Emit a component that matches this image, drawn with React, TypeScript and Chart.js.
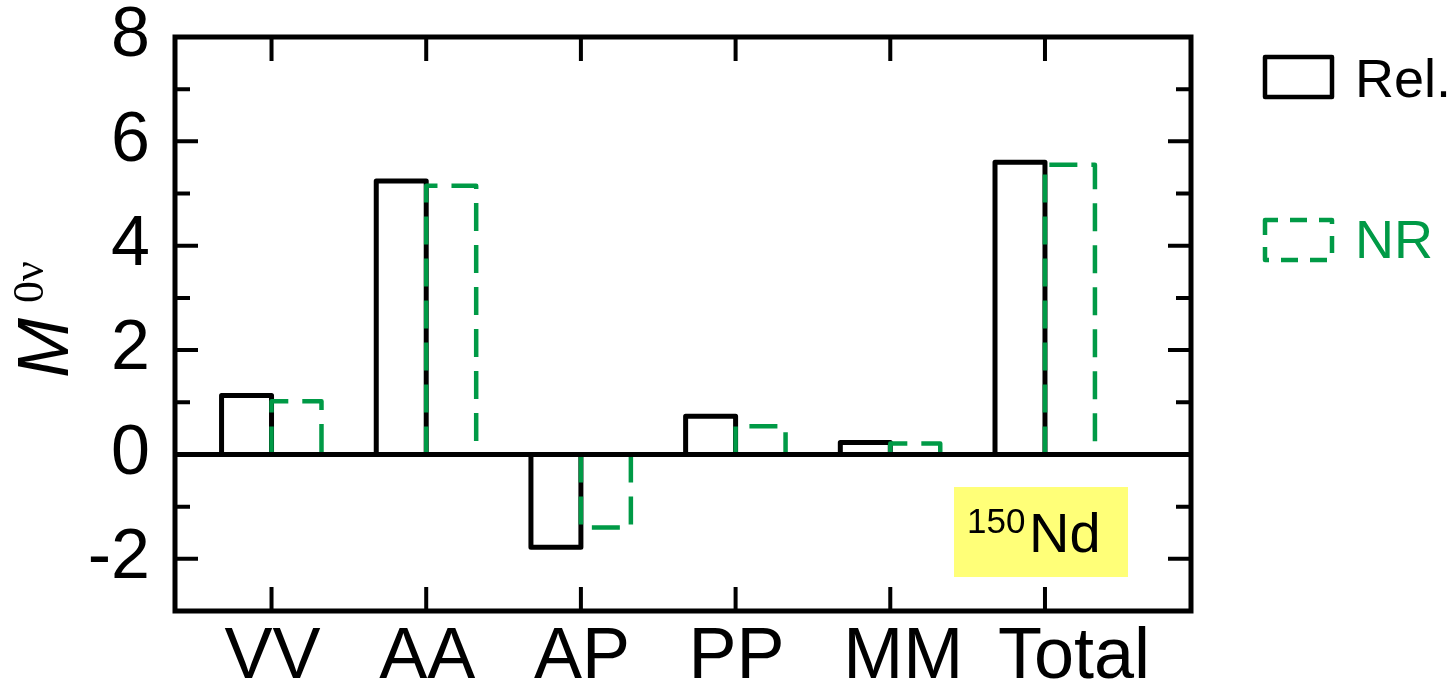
import { useEffect, useRef } from 'react';
import { Chart, registerables } from 'chart.js';

Chart.register(...registerables);

// Channel contributions to the 0νββ nuclear matrix element of 150Nd
const categories = ['VV', 'AA', 'AP', 'PP', 'MM', 'Total'];
const relValues = [1.13, 5.24, -1.78, 0.73, 0.23, 5.6];
const nrValues = [1.02, 5.15, -1.4, 0.54, 0.21, 5.55];
const seriesLabels = ['Rel.', 'NR'];
const yMajorTicks = [-2, 0, 2, 4, 6, 8];
const yMinorTicks = [-1, 1, 3, 5, 7];
const nucleusMass = '150';
const nucleusSymbol = 'Nd';

const SANS = '"Liberation Sans", Arial, sans-serif';
const SERIF = '"Liberation Serif", "Times New Roman", serif';
const GREEN = '#009a46';

type OutlineStyle = { color: string; width: number; dash: number[] };
const outlineStyles: OutlineStyle[] = [
  { color: '#000000', width: 5, dash: [] },
  { color: GREEN, width: 4.5, dash: [28, 14] },
];

// Open bars: stroke the three non-base sides of each bar element
const barOutlines = {
  id: 'barOutlines',
  afterDatasetsDraw(chart: any) {
    const ctx = chart.ctx as CanvasRenderingContext2D;
    chart.data.datasets.forEach((_: any, di: number) => {
      const meta = chart.getDatasetMeta(di);
      const st = outlineStyles[di];
      ctx.save();
      ctx.strokeStyle = st.color;
      ctx.lineWidth = st.width;
      ctx.setLineDash(st.dash);
      ctx.lineJoin = 'round';
      ctx.lineCap = 'butt';
      meta.data.forEach((bar: any) => {
        const { x, y, base, width } = bar.getProps(['x', 'y', 'base', 'width'], true);
        const l = x - width / 2;
        const r = x + width / 2;
        ctx.beginPath();
        ctx.moveTo(l, base);
        ctx.lineTo(l, y);
        ctx.lineTo(r, y);
        ctx.lineTo(r, base);
        ctx.stroke();
      });
      ctx.restore();
    });
  },
};

// Boxed frame with inward ticks, zero line, axis title, legend and nucleus tag
const frameAndDecor = {
  id: 'frameAndDecor',
  afterDraw(chart: any) {
    const ctx = chart.ctx as CanvasRenderingContext2D;
    const { left, right, top, bottom } = chart.chartArea;
    const xs = chart.scales.x;
    const ys = chart.scales.y;
    ctx.save();
    ctx.strokeStyle = '#000';
    ctx.lineCap = 'butt';
    ctx.setLineDash([]);

    // zero line
    ctx.lineWidth = 5;
    const y0 = ys.getPixelForValue(0);
    ctx.beginPath();
    ctx.moveTo(left, y0);
    ctx.lineTo(right, y0);
    ctx.stroke();

    // frame
    ctx.beginPath();
    ctx.rect(left, top, right - left, bottom - top);
    ctx.stroke();

    // y ticks on both sides
    ctx.lineWidth = 4;
    const yTick = (v: number, len: number) => {
      const py = ys.getPixelForValue(v);
      ctx.beginPath();
      ctx.moveTo(left, py);
      ctx.lineTo(left + len, py);
      ctx.moveTo(right, py);
      ctx.lineTo(right - len, py);
      ctx.stroke();
    };
    yMajorTicks.forEach((v) => yTick(v, 23));
    yMinorTicks.forEach((v) => yTick(v, 15));

    // x ticks top and bottom
    categories.forEach((_, i) => {
      const px = xs.getPixelForValue(i);
      ctx.beginPath();
      ctx.moveTo(px, top);
      ctx.lineTo(px, top + 24);
      ctx.moveTo(px, bottom);
      ctx.lineTo(px, bottom - 24);
      ctx.stroke();
    });

    // y axis title: M^{0ν}
    ctx.save();
    ctx.translate(68, (top + bottom) / 2 + 54);
    ctx.rotate(-Math.PI / 2);
    ctx.fillStyle = '#000';
    ctx.textAlign = 'left';
    ctx.textBaseline = 'alphabetic';
    ctx.font = `italic 72px ${SANS}`;
    ctx.fillText('M', 0, 0);
    ctx.font = `44px ${SERIF}`;
    ctx.fillText('0ν', 75, -25);
    ctx.restore();

    // legend
    const lx = right + 74;
    ctx.lineWidth = 4.5;
    ctx.strokeStyle = '#000';
    ctx.lineJoin = 'round';
    ctx.strokeRect(lx, 57, 67, 40);
    ctx.strokeStyle = GREEN;
    ctx.setLineDash([17, 12]);
    ctx.lineDashOffset = 4;
    ctx.strokeRect(lx, 220, 67, 40);
    ctx.setLineDash([]);
    ctx.font = `54px ${SANS}`;
    ctx.textAlign = 'left';
    ctx.textBaseline = 'alphabetic';
    ctx.fillStyle = '#000';
    ctx.fillText(seriesLabels[0], lx + 90, 97);
    ctx.fillStyle = GREEN;
    ctx.fillText(seriesLabels[1], lx + 90, 258);

    // nucleus tag
    const bx = right - 237;
    const by = bottom - 124;
    ctx.fillStyle = '#ffff78';
    ctx.fillRect(bx, by, 174, 90);
    ctx.fillStyle = '#000';
    ctx.font = `35px ${SANS}`;
    ctx.fillText(nucleusMass, bx + 13, by + 46);
    ctx.font = `56px ${SANS}`;
    ctx.fillText(nucleusSymbol, bx + 75, by + 65);

    ctx.restore();
  },
};

export default function App() {
  const canvasRef = useRef<HTMLCanvasElement | null>(null);

  useEffect(() => {
    const canvas = canvasRef.current;
    if (!canvas) return;
    const chart = new Chart(canvas, {
      type: 'bar',
      data: {
        datasets: [
          {
            label: seriesLabels[0],
            data: relValues.map((v, i) => ({ x: i, y: v })),
            backgroundColor: 'rgba(0,0,0,0)',
            borderWidth: 0,
            categoryPercentage: 0.646,
            barPercentage: 1,
          },
          {
            label: seriesLabels[1],
            data: nrValues.map((v, i) => ({ x: i, y: v })),
            backgroundColor: 'rgba(0,0,0,0)',
            borderWidth: 0,
            categoryPercentage: 0.646,
            barPercentage: 1,
          },
        ],
      },
      options: {
        animation: false,
        responsive: false,
        devicePixelRatio: 1,
        layout: { padding: { top: 37, right: 261, left: 0, bottom: 0 } },
        plugins: { legend: { display: false }, tooltip: { enabled: false } },
        scales: {
          x: {
            type: 'linear',
            min: -0.624,
            max: 5.944,
            offset: false,
            grid: { display: false, drawTicks: false },
            border: { display: false },
            afterBuildTicks: (axis: any) => {
              axis.ticks = categories.map((_, i) => ({ value: i }));
            },
            afterFit: (axis: any) => {
              axis.height = 71;
              axis.paddingLeft = 0;
              axis.paddingRight = 0;
            },
            ticks: {
              autoSkip: false,
              maxRotation: 0,
              minRotation: 0,
              align: 'start',
              labelOffset: -47,
              padding: 4,
              color: '#000',
              font: { family: SANS, size: 72 },
              callback: (v: any) => categories[Number(v)] ?? '',
            },
          },
          y: {
            type: 'linear',
            min: -3,
            max: 8,
            grid: { display: false, drawTicks: false },
            border: { display: false },
            afterBuildTicks: (axis: any) => {
              axis.ticks = yMajorTicks.map((v) => ({ value: v }));
            },
            afterFit: (axis: any) => {
              axis.width = 175;
              axis.paddingTop = 0;
              axis.paddingBottom = 0;
            },
            ticks: {
              padding: 25,
              color: '#000',
              font: { family: SANS, size: 70 },
              callback: (v: any) => String(v),
            },
          },
        },
      },
      plugins: [barOutlines, frameAndDecor],
    } as any);
    return () => chart.destroy();
  }, []);

  return (
    <div style={{ position: 'fixed', left: 0, top: 0, width: 1452, height: 682, background: '#fff' }}>
      <canvas ref={canvasRef} width={1452} height={682} style={{ width: 1452, height: 682 }} />
    </div>
  );
}
